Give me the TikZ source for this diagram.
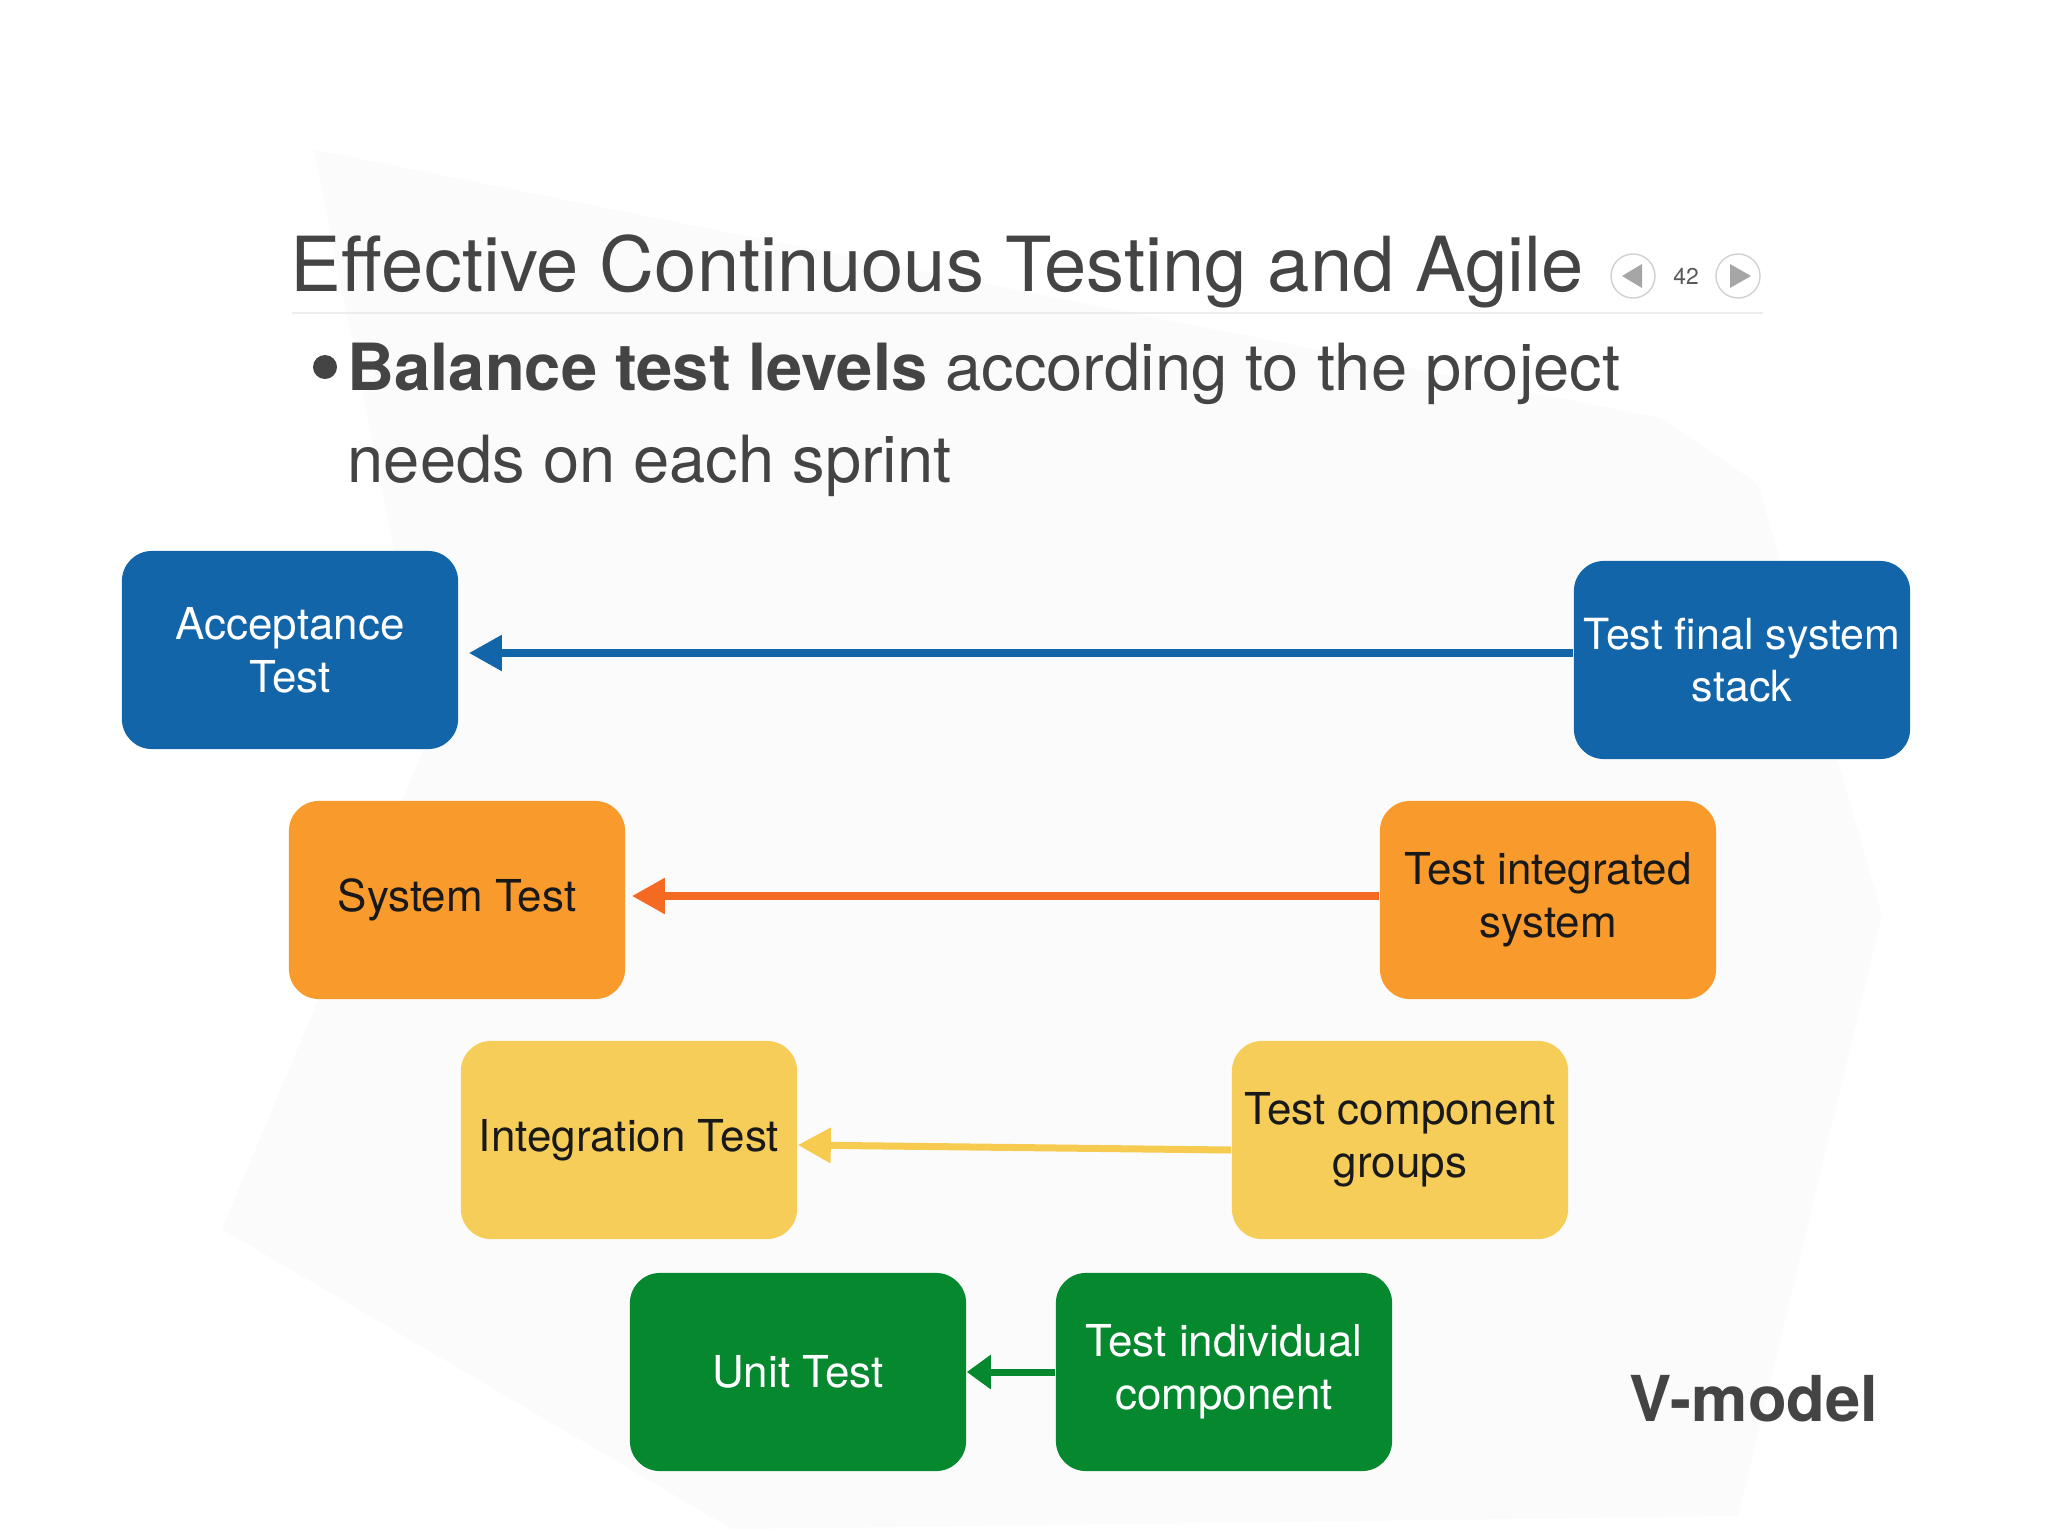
\documentclass[tikz,border=0pt]{standalone}
\usepackage{fontspec}
\setmainfont{TeX Gyre Heros}
\usetikzlibrary{arrows.meta}
\usetikzlibrary{calc}
\definecolor{vblue}{HTML}{1165A8}
\definecolor{vorange}{HTML}{F99B2C}
\definecolor{vyellow}{HTML}{F7CD5A}
\definecolor{vgreen}{HTML}{05882E}
\definecolor{lineorange}{HTML}{F46A23}
\definecolor{lineyellow}{HTML}{F7CB50}
\definecolor{inkgray}{HTML}{444444}

\begin{document}
\begin{tikzpicture}[x=0.01cm,y=-0.01cm,
level/.style={rounded corners=0.3cm,minimum width=3.36cm,minimum height=1.98cm,
align=center,inner sep=2pt,font=\fontsize{12.5}{15}\selectfont},
lighttext/.style={text=white},
darktext/.style={text=black!90},
link/.style={line width=0.08cm,-{Triangle[length=0.33cm,width=0.34cm]}},
navring/.style={circle,draw=black!18,line width=0.4pt,minimum size=0.44cm,inner sep=0pt},
heading/.style={anchor=base west,inner sep=0pt,text=inkgray}]
\useasboundingbox (0,0) rectangle (2048,1536);
\fill[white] (0,0) rectangle (2048,1536);
\fill[black!1.5] (314,150) -- (1660,418) -- (1758,484) -- (1882,915) -- (1738,1516)
  -- (732,1529) -- (222,1229) -- (431,732) -- cycle;

\node[heading,font=\fontsize{21.6}{26}\selectfont] (title) at (290,291) {Effective Continuous Testing and Agile};
\draw[black!7,line width=0.6pt] (292,313) -- (1763,313);
\node[navring] (prev) at (1633,276) {};
\node[navring] (next) at (1738,276) {};
\node[font=\fontsize{6.5}{8}\selectfont,text=black!65] (page) at (1686,276) {42};
\fill[black!35] (1622,276) -- (1642,264) -- (1642,288) -- cycle;
\fill[black!35] (1751,276) -- (1730,264) -- (1730,288) -- cycle;

\node[heading,font=\fontsize{18.5}{24}\selectfont] (balance) at (347,390) {\textbf{Balance test levels} according to the project};
\node[heading,font=\fontsize{18.5}{24}\selectfont] (needs) at (347,482) {needs on each sprint};
\node[circle,fill=inkgray,minimum size=0.24cm,inner sep=0pt] (dot) at (325,367) {};

\node[level,fill=vblue,lighttext] (accept) at (290,650) {Acceptance\\Test};
\node[level,fill=vblue,lighttext,font=\fontsize{12.2}{15}\selectfont] (tfinal) at (1742,660) {Test final system\\stack};
\node[level,fill=vorange,darktext] (sys) at (457,900) {System Test};
\node[level,fill=vorange,darktext] (tint) at (1548,900) {Test integrated\\system};
\node[level,fill=vyellow,darktext] (integ) at (629,1140) {Integration Test};
\node[level,fill=vyellow,darktext] (tcomp) at (1400,1140) {Test component\\groups};
\node[level,fill=vgreen,lighttext] (unit) at (798,1372) {Unit Test};
\node[level,fill=vgreen,lighttext] (tind) at (1224,1372) {Test individual\\component};

\path[link,vblue] ($(tfinal.west)+(0,-7)$) edge ($(accept.east)+(10,3)$);
\path[link,lineorange] ($(tint.west)+(0,-4)$) edge ($(sys.east)+(6,-4)$);
\path[link,lineyellow,line width=0.07cm] ($(tcomp.west)+(0,10)$) edge ($(integ.east)+(0,5)$);
\path[link,vgreen,line width=0.07cm,-{Triangle[length=0.24cm,width=0.33cm]}] (tind.west) edge (unit.east);

\node[heading,font=\bfseries\fontsize{18}{22}\selectfont] (vmodel) at (1629,1421) {V-model};
\end{tikzpicture}
\end{document}
